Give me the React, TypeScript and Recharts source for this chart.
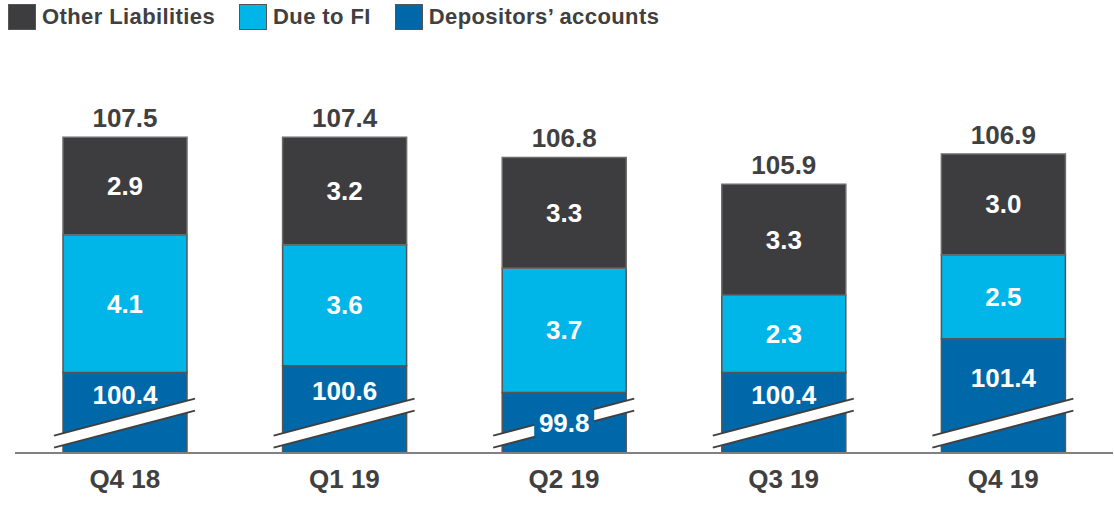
import React from 'react';
import { BarChart, Bar, XAxis, YAxis, Legend, LabelList } from 'recharts';

// ---- data ----
const categories = ['Q4 18', 'Q1 19', 'Q2 19', 'Q3 19', 'Q4 19'];
const depositorsAccounts = [100.4, 100.6, 99.8, 100.4, 101.4];
const dueToFI = [4.1, 3.6, 3.7, 2.3, 2.5];
const otherLiabilities = [2.9, 3.2, 3.3, 3.3, 3.0];
const totals = [107.5, 107.4, 106.8, 105.9, 106.9];
const axisMin = 98; // broken value axis starts here
const axisMax = 110;

const data = categories.map((quarter, i) => ({
  quarter,
  dep: depositorsAccounts[i],
  due: dueToFI[i],
  other: otherLiabilities[i],
  total: totals[i],
}));

// ---- styles ----
const FONT = "'Liberation Sans', Arial, Helvetica, sans-serif";
const C_OTHER = '#3D3D40';
const C_DUE = '#00B5E8';
const C_DEP = '#0068A8';
const C_TEXT = '#404040';
const C_STROKE = '#555555';
const LABEL_SIZE = 26;

const legendItems = [
  { label: 'Other Liabilities', color: C_OTHER },
  { label: 'Due to FI', color: C_DUE },
  { label: 'Depositors’ accounts', color: C_DEP },
];

const fmt = (v: number) => v.toFixed(1);

const renderLegend = () => (
  <div
    style={{
      display: 'flex',
      alignItems: 'center',
      height: 34,
      paddingLeft: 8,
      fontFamily: FONT,
      fontWeight: 700,
      fontSize: 22,
      letterSpacing: 0.4,
      color: C_TEXT,
    }}
  >
    {legendItems.map((it) => (
      <div key={it.label} style={{ display: 'flex', alignItems: 'center', marginRight: 24 }}>
        <div
          style={{
            width: 28,
            height: 26,
            background: it.color,
            border: `1px solid ${C_STROKE}`,
            boxSizing: 'border-box',
            marginRight: 6,
          }}
        />
        <span>{it.label}</span>
      </div>
    ))}
  </div>
);

const DepositorsShape = (props: any) => {
  const { x, y, width, height, background, payload } = props;
  const plotBottom = background ? background.y + background.height : y + height;
  const bottom = Math.min(y + height, plotBottom);
  const top = y;
  const slope = 37 / 141;
  const cx = x + width / 2;
  const x1 = x - 9;
  const x2 = x + width + 8;
  const upper = (xx: number) => bottom - 36 + (cx - xx) * slope;
  const gap = 12;
  const u1 = upper(x1);
  const u2 = upper(x2);
  const breakTopAtCenter = bottom - 36;
  const space = breakTopAtCenter - top;
  const overBreak = space < 30;
  const labelY = overBreak ? bottom - 30 : (top + breakTopAtCenter) / 2;
  const label = fmt(payload.dep);
  return (
    <g>
      <rect x={x} y={top} width={width} height={bottom - top} fill={C_DEP} stroke={C_STROKE} strokeWidth={1.5} />
      <polygon points={`${x1},${u1} ${x2},${u2} ${x2},${u2 + gap} ${x1},${u1 + gap}`} fill="#ffffff" />
      <line x1={x1} y1={u1} x2={x2} y2={u2} stroke="#404040" strokeWidth={2} />
      <line x1={x1} y1={u1 + gap} x2={x2} y2={u2 + gap} stroke="#404040" strokeWidth={2} />
      {overBreak && (
        <rect x={cx - 30} y={labelY - 14} width={60} height={28} fill={C_DEP} />
      )}
      <text
        x={cx}
        y={labelY}
        textAnchor="middle"
        dominantBaseline="central"
        fill="#ffffff"
        fontFamily={FONT}
        fontWeight={700}
        fontSize={LABEL_SIZE}
      >
        {label}
      </text>
    </g>
  );
};

const SegmentLabel = (props: any) => {
  const { x, y, width, height, value } = props;
  return (
    <text
      x={x + width / 2}
      y={y + height / 2}
      textAnchor="middle"
      dominantBaseline="central"
      fill="#ffffff"
      fontFamily={FONT}
      fontWeight={700}
      fontSize={LABEL_SIZE}
    >
      {fmt(Number(value))}
    </text>
  );
};

const TotalLabel = (props: any) => {
  const { x, y, width, value } = props;
  return (
    <text
      x={x + width / 2}
      y={y - 10}
      textAnchor="middle"
      fill={C_TEXT}
      fontFamily={FONT}
      fontWeight={700}
      fontSize={LABEL_SIZE}
    >
      {fmt(Number(value))}
    </text>
  );
};

const QuarterTick = (props: any) => {
  const { x, y, payload } = props;
  return (
    <text
      x={x}
      y={y + 27}
      textAnchor="middle"
      fill={C_TEXT}
      fontFamily={FONT}
      fontWeight={700}
      fontSize={LABEL_SIZE}
    >
      {payload.value}
    </text>
  );
};

export default function App() {
  return (
    <div style={{ position: 'absolute', left: 0, top: 0, width: 1114, height: 505, background: '#ffffff' }}>
      <BarChart
        width={1114}
        height={505}
        data={data}
        margin={{ top: 16, right: 1, left: 15, bottom: 8 }}
      >
        <Legend
          verticalAlign="top"
          align="left"
          content={renderLegend}
          wrapperStyle={{ top: 0, left: 0 }}
        />
        <XAxis
          dataKey="quarter"
          axisLine={{ stroke: '#808080', strokeWidth: 2 }}
          tickLine={false}
          tick={<QuarterTick />}
          interval={0}
          height={44}
        />
        <YAxis hide type="number" domain={[axisMin, axisMax]} allowDataOverflow />
        <Bar
          dataKey="dep"
          stackId="a"
          fill={C_DEP}
          barSize={124}
          shape={<DepositorsShape />}
          isAnimationActive={false}
        />
        <Bar
          dataKey="due"
          stackId="a"
          fill={C_DUE}
          stroke={C_STROKE}
          strokeWidth={1.5}
          barSize={124}
          isAnimationActive={false}
        >
          <LabelList dataKey="due" content={<SegmentLabel />} />
        </Bar>
        <Bar
          dataKey="other"
          stackId="a"
          fill={C_OTHER}
          stroke="#6a6a6a"
          strokeWidth={1.5}
          barSize={124}
          isAnimationActive={false}
        >
          <LabelList dataKey="other" content={<SegmentLabel />} />
          <LabelList dataKey="total" content={<TotalLabel />} />
        </Bar>
      </BarChart>
    </div>
  );
}
